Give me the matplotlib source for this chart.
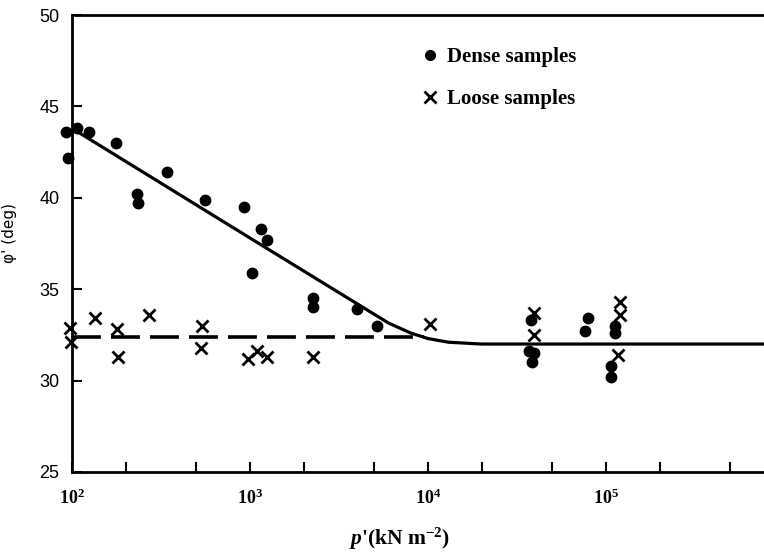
import matplotlib
matplotlib.use("Agg")
import matplotlib.pyplot as plt
from matplotlib.lines import Line2D
from matplotlib.ticker import FixedLocator, NullFormatter

# ---- data ----
dense_p = [93, 95, 107, 125, 177, 232, 234, 341, 558, 925, 1030, 1150, 1245,
           2250, 2250, 4000, 5150, 38000, 37000, 39500, 38500, 76000, 79000,
           107000, 107000, 112000, 112000]
dense_phi = [43.6, 42.2, 43.8, 43.6, 43.0, 40.2, 39.7, 41.4, 39.9, 39.5, 35.9, 38.3, 37.7,
             34.5, 34.0, 33.9, 33.0, 33.3, 31.6, 31.5, 31.0, 32.7, 33.4,
             30.8, 30.2, 33.0, 32.6]

loose_p = [97, 99, 135, 179, 181, 271, 537, 531, 975, 1090, 1245, 2260, 10300,
           39500, 39500, 120000, 120000, 117000]
loose_phi = [32.9, 32.1, 33.4, 32.8, 31.3, 33.6, 33.0, 31.8, 31.2, 31.6, 31.3, 31.3, 33.1,
             33.7, 32.5, 34.3, 33.6, 31.4]

fit_dense_p = [100, 1000, 4000, 6000, 8000, 10000, 13000, 20000, 800000]
fit_dense_phi = [43.8, 37.8, 34.2, 33.15, 32.6, 32.3, 32.1, 32.0, 32.0]

fit_loose_p = [100, 9500]
fit_loose_phi = [32.4, 32.4]

x_major = [1e2, 1e3, 1e4, 1e5]
x_major_labels = [r"$10^{2}$", r"$10^{3}$", r"$10^{4}$", r"$10^{5}$"]
x_minor = [2e2, 5e2, 2e3, 5e3, 2e4, 5e4, 2e5, 5e5]
y_ticks = [25, 30, 35, 40, 45, 50]

legend_labels = ["Dense samples", "Loose samples"]
x_label = r"$p$'(kN m$^{-2}$)"
y_label = "\u03c6' (deg)"

# ---- style ----
plt.rcParams["font.family"] = ["Liberation Serif", "DejaVu Serif"]
plt.rcParams["mathtext.fontset"] = "custom"
plt.rcParams["mathtext.rm"] = "Liberation Serif:bold"
plt.rcParams["mathtext.it"] = "Liberation Serif:italic:bold"
plt.rcParams["mathtext.bf"] = "Liberation Serif:bold"

W, H = 764, 552
fig = plt.figure(figsize=(W / 100, H / 100), dpi=100)
L, R, T, B = 72, 764, 15, 472
ax = fig.add_axes([L / W, 1 - B / H, (R - L) / W, (B - T) / H])

ax.set_xscale("log")
ax.set_xlim(100, 10 ** (2 + (R - L) / 178))
ax.set_ylim(25, 50)

ax.plot(fit_dense_p, fit_dense_phi, color="black", lw=2.3, solid_capstyle="butt")
ax.plot(fit_loose_p, fit_loose_phi, color="black", lw=2.6, dashes=(8, 2.8))

ax.plot(dense_p, dense_phi, "o", color="black", ms=7.5, clip_on=False, zorder=3)
ax.plot(loose_p, loose_phi, "x", color="black", ms=9, mew=2.0, clip_on=False, zorder=3)

for s in ["left", "bottom", "top"]:
    ax.spines[s].set_linewidth(2.0)
ax.spines["right"].set_visible(False)

ax.set_xticks(x_major, x_major_labels)
ax.xaxis.set_minor_locator(FixedLocator(x_minor))
ax.xaxis.set_minor_formatter(NullFormatter())
ax.tick_params(axis="x", which="both", direction="in", length=7, width=1.5,
               labelsize=13, pad=12, top=False)
ax.set_yticks(y_ticks)
ax.tick_params(axis="y", which="both", direction="in", length=7, width=1.5,
               labelsize=13, pad=9, right=False)
for lab in ax.get_yticklabels():
    lab.set_fontfamily("Liberation Sans")

ax.set_xlabel(x_label, fontsize=15.5, fontweight="bold")
ax.xaxis.set_label_coords((400 - L) / (R - L), (B - 526) / (B - T))
ax.set_ylabel(y_label, fontsize=11, fontfamily="DejaVu Sans")
ax.yaxis.set_label_coords((17 - L) / (R - L), (B - 233) / (B - T))

handles = [Line2D([], [], ls="none", marker="o", color="black", ms=7),
           Line2D([], [], ls="none", marker="x", color="black", ms=9, mew=2.0)]
ax.legend(handles, legend_labels, loc="upper left",
          bbox_to_anchor=(424 / W, 1 - 47 / H), bbox_transform=fig.transFigure,
          frameon=False, handlelength=0.6, handletextpad=0.5, labelspacing=1.05,
          borderpad=0, borderaxespad=0,
          prop={"family": "Liberation Serif", "weight": "bold", "size": 15})

fig.savefig("out.png", dpi=100, facecolor="white")
